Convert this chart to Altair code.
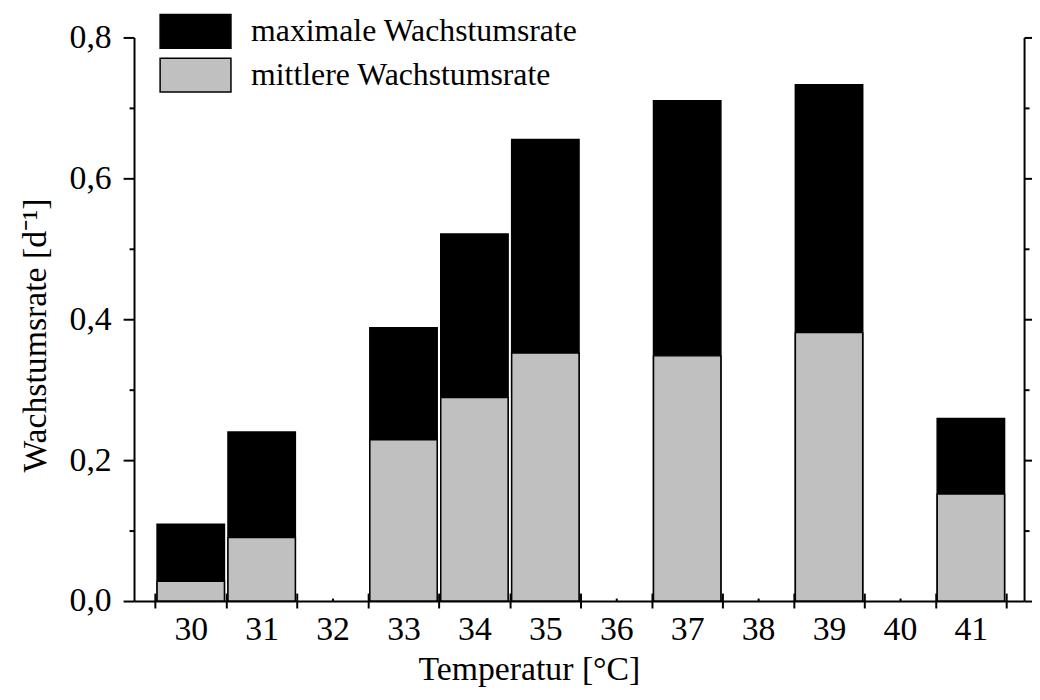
import altair as alt
import pandas as pd

# ---- data ----
temperatures = [30, 31, 32, 33, 34, 35, 36, 37, 38, 39, 40, 41]
max_rate = [0.109, 0.240, None, 0.388, 0.521, 0.655, None, 0.710, None, 0.733, None, 0.259]
mean_rate = [0.028, 0.090, None, 0.229, 0.289, 0.352, None, 0.348, None, 0.381, None, 0.152]
series_names = ["maximale Wachstumsrate", "mittlere Wachstumsrate"]
series_colors = ["#000000", "#c0c0c0"]
y_tick_values = [0.0, 0.1, 0.2, 0.3, 0.4, 0.5, 0.6, 0.7, 0.8]
x_bound_values = [29.5, 30.5, 31.5, 32.5, 33.5, 34.5, 35.5, 36.5, 37.5, 38.5, 39.5, 40.5, 41.5]
x_label_values = temperatures
x_title = "Temperatur [°C]"
y_title = "Wachstumsrate [d⁻¹]"

FONT = "Liberation Serif"
FS_TICK = 34
FS_TITLE = 34
FS_LEG = 32
W, H = 897, 568
PAD_L, PAD_T = 127, 27


def rows_for(values, name):
    return pd.DataFrame(
        [{"T": t, "rate": v, "Reihe": name} for t, v in zip(temperatures, values) if v is not None]
    )


df_max = rows_for(max_rate, series_names[0])
df_mean = rows_for(mean_rate, series_names[1])

x_scale = alt.Scale(domain=[29.2, 41.75], nice=False, zero=False)
y_scale = alt.Scale(domain=[0, 0.8], nice=False, zero=True)
color_scale = alt.Scale(domain=series_names, range=series_colors)

major_y = "abs(datum.value*10 - 2*round(datum.value*5)) < 0.01"
is_center = "abs(datum.value - round(datum.value)) < 0.01"

x_axis = alt.Axis(
    values=sorted(x_bound_values + x_label_values),
    labelExpr=f"{is_center} ? format(datum.value, 'd') : ''",
    tickSize={"condition": {"test": is_center, "value": 0}, "value": 7},
    labelOverlap=False,
    labelFlush=False,
    labelPadding=12,
    labelFontSize=FS_TICK,
    grid=False,
    title=x_title,
    titleX=398,
    titleY=69,
    titleAlign="center",
    titleBaseline="middle",
)

y_axis = alt.Axis(
    values=y_tick_values,
    labelExpr=f"{major_y} ? replace(format(datum.value, '.1f'), '.', ',') : ''",
    tickSize={"condition": {"test": major_y, "value": 11}, "value": 5},
    labelOverlap=False,
    labelFlush=False,
    labelPadding=12,
    labelFontSize=FS_TICK,
    grid=False,
    title=y_title,
    titleX=-99,
    titleY=300,
    titleAlign="center",
    titleBaseline="middle",
)

legend = alt.Legend(
    title=None,
    orient="none",
    legendX=44,
    legendY=-24,
    padding=0,
    symbolType="M-2.1,-1H2.1V1H-2.1Z",
    symbolSize=1156,
    symbolStrokeColor="black",
    symbolStrokeWidth=1.5,
    labelFont=FONT,
    labelFontSize=FS_LEG,
    labelColor="black",
    labelOffset=38,
    labelLimit=0,
    rowPadding=4,
)


def bar_layer(df):
    return (
        alt.Chart(df)
        .transform_calculate(x0="datum.T - 0.475", x1="datum.T + 0.475")
        .mark_bar(stroke="black", strokeWidth=1.5)
        .encode(
            x=alt.X("x0:Q", scale=x_scale, axis=x_axis),
            x2="x1:Q",
            y=alt.Y("rate:Q", scale=y_scale, axis=y_axis),
            y2=alt.datum(0),
            color=alt.Color("Reihe:N", scale=color_scale, legend=legend),
        )
    )


bars = alt.layer(bar_layer(df_max), bar_layer(df_mean))

# second set of axes: upward ticks on the x axis line and the right-hand y axis
frame = (
    alt.Chart(df_max)
    .mark_point(opacity=0)
    .encode(
        x=alt.X(
            "T:Q",
            scale=alt.Scale(domain=[29.2, 41.75], nice=False, zero=False),
            axis=alt.Axis(
                orient="top",
                offset=-H,
                values=sorted(x_bound_values + x_label_values),
                tickSize={"condition": {"test": is_center, "value": 3}, "value": 8},
                labels=False,
                domain=False,
                grid=False,
                title=None,
            ),
        ),
        y=alt.Y(
            "rate:Q",
            scale=alt.Scale(domain=[0, 0.8], nice=False, zero=True),
            axis=alt.Axis(
                orient="right",
                values=y_tick_values,
                tickSize={"condition": {"test": major_y, "value": 11}, "value": 5},
                labels=False,
                grid=False,
                title=None,
            ),
        ),
    )
)

chart = (
    alt.layer(bars, frame)
    .resolve_scale(x="independent", y="independent")
    .properties(
        width=W,
        height=H,
        autosize="none",
        padding={"left": PAD_L, "top": PAD_T, "right": 8, "bottom": 88},
        background="white",
    )
    .configure_view(strokeWidth=0)
    .configure_axis(
        domainColor="black",
        domainWidth=2,
        tickColor="black",
        tickWidth=2,
        labelFont=FONT,
        labelColor="black",
        titleFont=FONT,
        titleFontSize=FS_TITLE,
        titleFontWeight="normal",
        titleColor="black",
    )
)

chart.save("out.html", embed_options={"renderer": "svg", "actions": False})
